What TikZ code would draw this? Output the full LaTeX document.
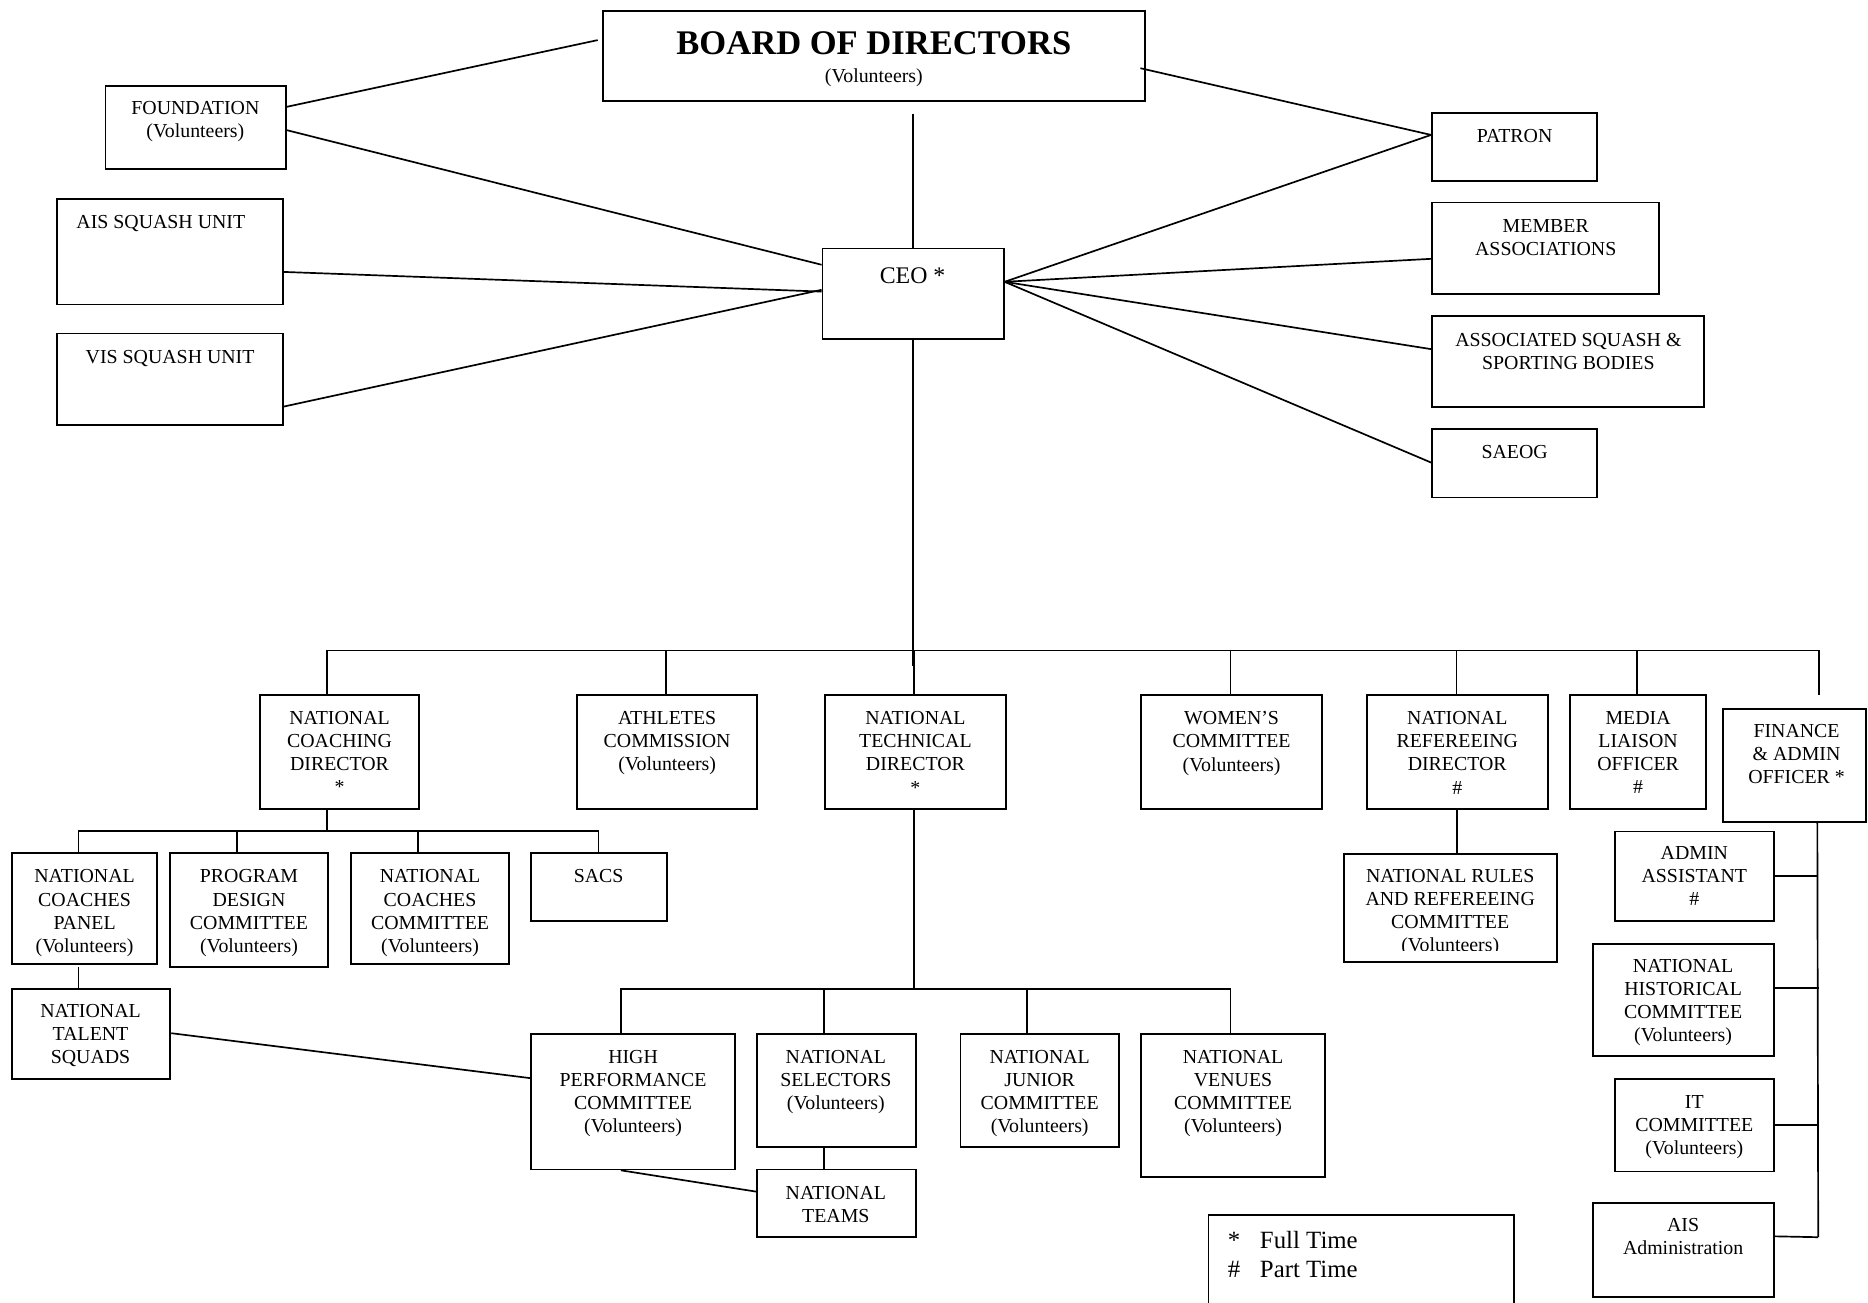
\documentclass[tikz,border=0pt]{standalone}
\usepackage{fontspec}
\setmainfont{Liberation Serif}
\usetikzlibrary{fit,calc}
\begin{document}
\begin{tikzpicture}[x=0.6pt,y=-0.6pt,
  box/.style={draw,line width=0.9pt,inner sep=0pt,rectangle},
  lbl/.style={font=\fontsize{10}{11.6}\selectfont,align=center,inner sep=0pt,anchor=north},
  conn/.style={line width=0.85pt}]
\useasboundingbox (0,0) rectangle (1568,1093);

% ---------- boxes ----------
\node[box,fit={(506,9)(961,85)}] (board) {};
\node[box,fit={(88.5,72)(240,142)}] (found) {};
\node[box,fit={(48,167)(237.5,255.5)}] (ais) {};
\node[box,fit={(48,280)(237.5,357)}] (vis) {};
\node[box,fit={(690.4,208.5)(842.5,284.5)}] (ceo) {};
\node[box,fit={(1202,95)(1340.5,152)}] (patron) {};
\node[box,fit={(1202,170)(1392.4,246.8)}] (member) {};
\node[box,fit={(1202,265.3)(1430,341.4)}] (assoc) {};
\node[box,fit={(1202,360)(1340.5,417.5)}] (saeog) {};

\node[box,fit={(218.5,583.5)(351.6,679)}] (ncd) {};
\node[box,fit={(484,583.5)(635.5,679)}] (ath) {};
\node[box,fit={(692.5,583.5)(844.2,679)}] (ntd) {};
\node[box,fit={(958,583.5)(1109.6,679)}] (wom) {};
\node[box,fit={(1147.2,583.5)(1299.3,679)}] (nrd) {};
\node[box,fit={(1317.9,583.5)(1431.9,679)}] (media) {};
\node[box,fit={(1446.5,595.3)(1566.5,689.8)}] (fin) {};

\node[box,fit={(10,716)(132,809)}] (ncp) {};
\node[box,fit={(143,716)(275.5,811.5)}] (pdc) {};
\node[box,fit={(294.5,716)(427,809)}] (ncc) {};
\node[box,fit={(446,716)(560,773)}] (sacs) {};
\node[box,fit={(10,830)(143,906)}] (nts) {};
\node[box,fit={(1128,716.5)(1307,807.4)}] (nrr) {};

\node[box,fit={(445.7,867.7)(616.8,981.6)}] (hpc) {};
\node[box,fit={(635.6,867.7)(768.6,962.7)}] (sel) {};
\node[box,fit={(806.2,867.7)(939.2,962.7)}] (jun) {};
\node[box,fit={(958,867.7)(1112,987.8)}] (ven) {};
\node[box,fit={(635.6,981.6)(768.6,1038.5)}] (teams) {};

\node[box,fit={(1355.9,697.9)(1488.8,773.1)}] (admin) {};
\node[box,fit={(1337,792.4)(1488.8,886.7)}] (hist) {};
\node[box,fit={(1355.9,905.7)(1488.8,983.4)}] (itc) {};
\node[box,fit={(1337,1009.7)(1488.8,1088.6)}] (aisadm) {};
\node[box,fit={(1014.4,1019.6)(1270.7,1110)}] (legend) {};

% ---------- texts ----------
\node[font=\fontsize{17.4}{19}\selectfont\bfseries,inner sep=0pt,anchor=north] (boardt) at (733.5,26) {BOARD OF DIRECTORS};
\node[lbl] (boardv) at (733.5,57) {(Volunteers)};
\node[lbl] (foundt) at (164,84.9) {FOUNDATION\\(Volunteers)};
\node[lbl] (aist) at (135,180.5) {AIS SQUASH UNIT};
\node[lbl] (vist) at (142.8,293.9) {VIS SQUASH UNIT};
\node[lbl,font=\fontsize{12}{14}\selectfont] (ceot) at (766,224.2) {CEO *};
\node[lbl] (patront) at (1271.4,108.4) {PATRON};
\node[lbl] (membert) at (1297.5,183.9) {MEMBER\\ASSOCIATIONS};
\node[lbl] (assoct) at (1316.5,279.1) {ASSOCIATED SQUASH \&\\SPORTING BODIES};
\node[lbl] (saeogt) at (1271.4,373.6) {SAEOG};

\node[lbl] (ncdt) at (285,596.9) {NATIONAL\\COACHING\\DIRECTOR\\*};
\node[lbl] (atht) at (560,597.1) {ATHLETES\\COMMISSION\\(Volunteers)};
\node[lbl] (ntdt) at (768.4,597.1) {NATIONAL\\TECHNICAL\\DIRECTOR\\*};
\node[lbl] (womt) at (1033.8,597.1) {WOMEN’S\\COMMITTEE\\(Volunteers)};
\node[lbl] (nrdt) at (1223.2,597.1) {NATIONAL\\REFEREEING\\DIRECTOR\\\#};
\node[lbl] (mediat) at (1375,597.1) {MEDIA\\LIAISON\\OFFICER\\\#};
\node[lbl] (fint) at (1508,608) {FINANCE\\\& ADMIN\\OFFICER *};

\node[lbl] (ncpt) at (71,729.8) {NATIONAL\\COACHES\\PANEL\\(Volunteers)};
\node[lbl] (pdct) at (209,729.8) {PROGRAM\\DESIGN\\COMMITTEE\\(Volunteers)};
\node[lbl] (ncct) at (361,729.8) {NATIONAL\\COACHES\\COMMITTEE\\(Volunteers)};
\node[lbl] (sacst) at (502.5,729.8) {SACS};
\node[lbl] (ntst) at (76,842.9) {NATIONAL\\TALENT\\SQUADS};
\begin{scope}
\clip (1128,716.5) rectangle (1307,798);
\node[lbl] (nrrt) at (1217.3,729.6) {NATIONAL RULES\\AND REFEREEING\\COMMITTEE\\(Volunteers)};
\end{scope}

\node[lbl] (hpct) at (531.4,881.2) {HIGH\\PERFORMANCE\\COMMITTEE\\(Volunteers)};
\node[lbl] (selt) at (701.6,881.2) {NATIONAL\\SELECTORS\\(Volunteers)};
\node[lbl] (junt) at (872.7,881.2) {NATIONAL\\JUNIOR\\COMMITTEE\\(Volunteers)};
\node[lbl] (vent) at (1035,881.2) {NATIONAL\\VENUES\\COMMITTEE\\(Volunteers)};
\node[lbl] (teamst) at (701.6,995.1) {NATIONAL\\TEAMS};

\node[lbl] (admint) at (1422.2,710.3) {ADMIN\\ASSISTANT\\\#};
\node[lbl] (histt) at (1412.8,805.2) {NATIONAL\\HISTORICAL\\COMMITTEE\\(Volunteers)};
\node[lbl] (itct) at (1422.2,919.1) {IT\\COMMITTEE\\(Volunteers)};
\node[lbl] (aisadmt) at (1412.8,1022.5) {AIS\\Administration};

\node[font=\fontsize{12.5}{14.2}\selectfont,align=left,inner sep=0pt,anchor=north west] (legendt) at (1030.3,1033.5)
  {\makebox[16.2pt][l]{*}Full Time\\\makebox[16.2pt][l]{\#}Part Time};

% ---------- connectors (top) ----------
\draw[conn] ($(board.north west)+(-3.5,25.4)$) -- ($(found.north east)+(0,18.4)$);
\draw[conn] ($(found.north east)+(0,38)$) -- ($(ceo.north west)+(0,14.5)$);
\draw[conn] ($(ais.north east)+(0,62)$) -- ($(ceo.north west)+(0,37)$);
\draw[conn] ($(vis.north east)+(0,62)$) -- ($(ceo.north west)+(0,35.5)$);
\draw[conn] ($(board.north east)+(-4.5,49)$) -- ($(patron.north west)+(0,19)$);
\draw[conn] ($(ceo.north east)+(0,28.8)$) -- ($(patron.north west)+(0,19)$);
\draw[conn] ($(ceo.north east)+(0,28.8)$) -- ($(member.north west)+(0,48)$);
\draw[conn] ($(ceo.north east)+(0,28.8)$) -- ($(assoc.north west)+(0,28.5)$);
\draw[conn] ($(ceo.north east)+(0,28.8)$) -- ($(saeog.north west)+(0,29)$);
\coordinate (bdrop) at (766.45,96);
\draw[conn] (bdrop) -- (ceo.north);
\coordinate (ceoend) at (766.45,558.8);
\draw[conn] (ceo.south) -- (ceoend);

% main bus
\coordinate (busL) at (275.4,546);
\coordinate (busR) at (1526.8,546);
\coordinate (finhook) at (1526.8,583);
\draw[conn] (busL) -- (busR) -- (finhook);
\draw[conn] ($(ncd.north west)+(56.9,0)$) -- ++(0,-37.5);
\draw[conn] ($(ath.north west)+(76,0)$) -- ++(0,-37.5);
\draw[conn] ($(ntd.north west)+(75.5,0)$) -- ++(0,-37.5);
\draw[conn] ($(wom.north west)+(75.6,0)$) -- ++(0,-37.5);
\draw[conn] ($(nrd.north west)+(76,0)$) -- ++(0,-37.5);
\draw[conn] ($(media.north west)+(57.1,0)$) -- ++(0,-37.5);

% coaching director sub-tree
\coordinate (sbusL) at (66.7,697.3);
\coordinate (sbusR) at (503,697.3);
\draw[conn] ($(ncd.south west)+(56.9,0)$) -- ++(0,18.3);
\draw[conn] (sbusL) -- (sbusR);
\draw[conn] ($(ncp.north west)+(56.7,0)$) -- ++(0,-18.7);
\draw[conn] ($(pdc.north west)+(56.4,0)$) -- ++(0,-18.7);
\draw[conn] ($(ncc.north west)+(56.9,0)$) -- ++(0,-18.7);
\draw[conn] ($(sacs.north west)+(57,0)$) -- ++(0,-18.7);
\draw[conn] ($(ncp.south west)+(56.7,2)$) -- ($(nts.north west)+(56.7,0)$);
\draw[conn] ($(nts.north east)+(0,38)$) -- ($(hpc.north west)+(0,38)$);

% technical director sub-tree
\coordinate (tbusL) at (521.9,830.1);
\coordinate (tbusR) at (1033.6,830.1);
\draw[conn] ($(ntd.south west)+(75.5,0)$) -- ++(0,151.1);
\draw[conn] (tbusL) -- (tbusR);
\draw[conn] ($(hpc.north west)+(76.2,0)$) -- ++(0,-37.6);
\draw[conn] ($(sel.north west)+(56.9,0)$) -- ++(0,-37.6);
\draw[conn] ($(jun.north west)+(56.8,0)$) -- ++(0,-37.6);
\draw[conn] ($(ven.north west)+(75.6,0)$) -- ++(0,-37.6);
\draw[conn] ($(sel.south west)+(56.9,0)$) -- ($(teams.north west)+(56.9,0)$);
\draw[conn] ($(hpc.south west)+(76.2,0)$) -- ($(teams.north west)+(0,19.4)$);

% refereeing
\draw[conn] (nrd.south) -- (nrd.south |- nrr.north);

% finance
\coordinate (finEnd) at (1526.2,1038.5);
\draw[conn] ($(fin.south west)+(79.7,0)$) -- (finEnd);
\draw[conn] (admin.east) -- (admin.east -| finEnd);
\draw[conn] ($(hist.north east)+(0,37.7)$) -- ++(37.4,0);
\draw[conn] (itc.east) -- (itc.east -| finEnd);
\draw[conn] ($(aisadm.north east)+(0,28.8)$) -- (finEnd);
\end{tikzpicture}
\end{document}
